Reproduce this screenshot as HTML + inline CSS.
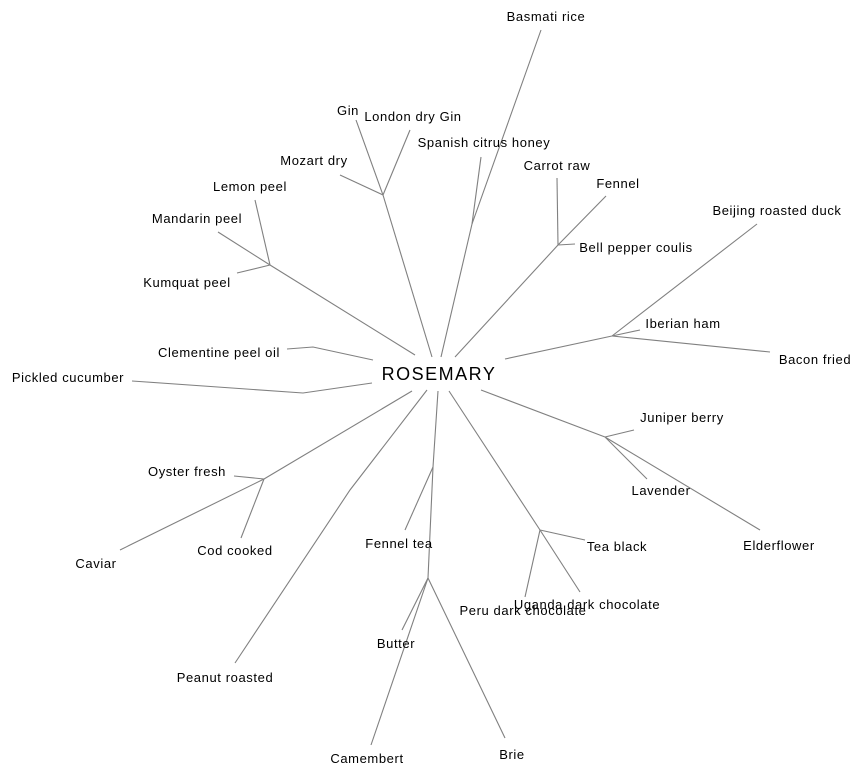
<!DOCTYPE html>
<html><head><meta charset="utf-8"><style>
html,body{margin:0;padding:0;background:#fff;}
svg{display:block;}
text{font-family:"Liberation Sans",Arial,sans-serif;font-size:13px;letter-spacing:0.6px;fill:#000;}
</style></head><body>
<svg width="864" height="777" viewBox="0 0 864 777">
<g stroke="#808080" stroke-width="1.1" fill="none">
<polyline points="441,357 472,224 541,30"/>
<line x1="472" y1="224" x2="481" y2="157"/>
<line x1="432" y1="357" x2="383" y2="195"/>
<line x1="356" y1="120" x2="383" y2="195"/>
<line x1="410" y1="130" x2="383" y2="195"/>
<line x1="340" y1="175" x2="383" y2="195"/>
<line x1="415" y1="355" x2="270" y2="265"/>
<line x1="255" y1="200" x2="270" y2="265"/>
<line x1="218" y1="232" x2="270" y2="265"/>
<line x1="237" y1="273" x2="270" y2="265"/>
<polyline points="287,349 313,347 373,360"/>
<polyline points="132,381 303,393 372,383"/>
<line x1="455" y1="357" x2="558" y2="245"/>
<line x1="557" y1="178" x2="558" y2="245"/>
<line x1="606" y1="196" x2="558" y2="245"/>
<line x1="575" y1="244" x2="558" y2="245"/>
<line x1="505" y1="359" x2="612" y2="336"/>
<line x1="757" y1="224" x2="612" y2="336"/>
<line x1="640" y1="330" x2="612" y2="336"/>
<line x1="770" y1="352" x2="612" y2="336"/>
<line x1="481" y1="390" x2="605" y2="437"/>
<line x1="634" y1="430" x2="605" y2="437"/>
<line x1="647" y1="479" x2="605" y2="437"/>
<line x1="760" y1="530" x2="605" y2="437"/>
<line x1="449" y1="391" x2="540" y2="530"/>
<line x1="585" y1="540" x2="540" y2="530"/>
<line x1="580" y1="592" x2="540" y2="530"/>
<line x1="525" y1="597" x2="540" y2="530"/>
<polyline points="438,391 433,467 428,578"/>
<line x1="433" y1="467" x2="405" y2="530"/>
<line x1="402" y1="630" x2="428" y2="578"/>
<line x1="371" y1="745" x2="428" y2="578"/>
<line x1="505" y1="738" x2="428" y2="578"/>
<line x1="412" y1="391" x2="264" y2="479"/>
<line x1="234" y1="476" x2="264" y2="479"/>
<line x1="120" y1="550" x2="264" y2="479"/>
<line x1="241" y1="538" x2="264" y2="479"/>
<polyline points="235,663 350,490 427,390"/>
</g>
<text x="439" y="380" text-anchor="middle" style="font-size:18px;letter-spacing:1.5px">ROSEMARY</text>
<g text-anchor="middle">
<text x="546" y="21">Basmati rice</text>
<text x="484" y="147">Spanish citrus honey</text>
<text x="348" y="115">Gin</text>
<text x="413" y="121">London dry Gin</text>
<text x="314" y="165">Mozart dry</text>
<text x="250" y="191">Lemon peel</text>
<text x="197" y="223">Mandarin peel</text>
<text x="187" y="287">Kumquat peel</text>
<text x="219" y="357">Clementine peel oil</text>
<text x="68" y="382">Pickled cucumber</text>
<text x="557" y="170">Carrot raw</text>
<text x="618" y="188">Fennel</text>
<text x="636" y="252">Bell pepper coulis</text>
<text x="777" y="215">Beijing roasted duck</text>
<text x="683" y="328">Iberian ham</text>
<text x="815" y="364">Bacon fried</text>
<text x="682" y="422">Juniper berry</text>
<text x="661" y="495">Lavender</text>
<text x="779" y="550">Elderflower</text>
<text x="617" y="551">Tea black</text>
<text x="587" y="609">Uganda dark chocolate</text>
<text x="523" y="615">Peru dark chocolate</text>
<text x="399" y="548">Fennel tea</text>
<text x="396" y="648">Butter</text>
<text x="367" y="763">Camembert</text>
<text x="512" y="759">Brie</text>
<text x="187" y="476">Oyster fresh</text>
<text x="96" y="568">Caviar</text>
<text x="235" y="555">Cod cooked</text>
<text x="225" y="682">Peanut roasted</text>
</g>
</svg>
</body></html>
